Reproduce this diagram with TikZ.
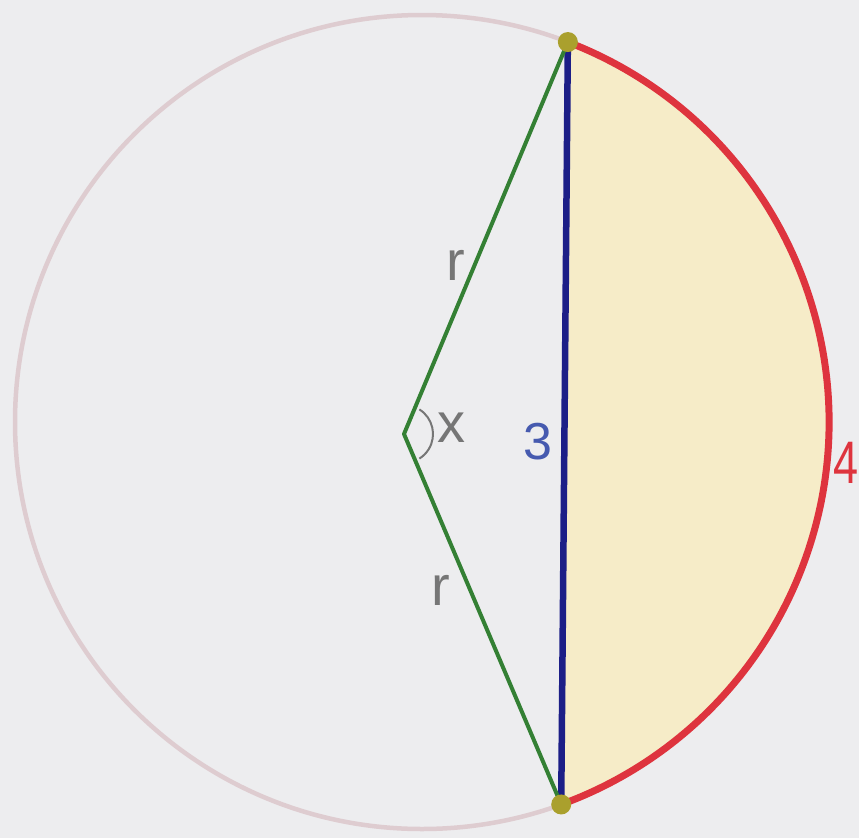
\documentclass[tikz,border=0pt]{standalone}
\usepackage{fontspec}
\setmainfont{Liberation Sans}
\begin{document}
\begin{tikzpicture}[x=1pt,y=-1pt]
\definecolor{bgc}{RGB}{237,237,239}
\definecolor{circc}{RGB}{222,204,208}
\definecolor{segc}{RGB}{246,236,200}
\definecolor{redc}{RGB}{222,52,62}
\definecolor{bluec}{RGB}{28,30,135}
\definecolor{threec}{RGB}{70,90,175}
\definecolor{greenc}{RGB}{52,128,52}
\definecolor{dotc}{RGB}{170,160,45}
\definecolor{greyt}{RGB}{118,118,118}
\tikzset{
  lbl/.style={inner sep=0pt, text=greyt, font=\fontsize{56}{60}\selectfont},
  dot/.style={circle, fill=dotc, inner sep=0pt, minimum size=20pt}
}
\fill[bgc] (0,0) rectangle (859,838);
\useasboundingbox (0,0) rectangle (859,838);
\coordinate (C) at (422,422);
\coordinate (A) at ([shift={(-69:407)}]C);
\coordinate (B) at ([shift={(70:407)}]C);
\coordinate (O) at (404,434);
% circle
\draw[circc, line width=4.5pt] (C) circle[radius=407];
% segment fill
\fill[segc] (A) arc[start angle=-69, end angle=70, radius=407] -- cycle;
% red arc
\draw[redc, line width=7pt] (A) arc[start angle=-69, end angle=70, radius=407];
% chord
\draw[bluec, line width=6.5pt] (A) -- (B);
% radii
\draw[greenc, line width=4pt, line join=round] (A) -- (O) -- (B);
% angle arc
\draw[greyt, line width=2pt] ([shift={(-58:29)}]O) arc[start angle=-58, end angle=58, radius=29];
% endpoint dots
\node[dot] (Ad) at (A) {};
\node[dot] (Bd) at (B) {};
% labels
\node[lbl] (r1) at (456,265) {r};
\node[lbl] (r2) at (441,590) {r};
\node[lbl] (xl) at (451,428) {x};
\node[lbl, text=threec, font=\fontsize{52}{56}\selectfont] (three) at (538,442) {3};
\node[lbl, text=redc, font=\fontsize{60}{64}\selectfont, xscale=0.75, anchor=west] (four) at (833,463) {4};
\end{tikzpicture}
\end{document}
